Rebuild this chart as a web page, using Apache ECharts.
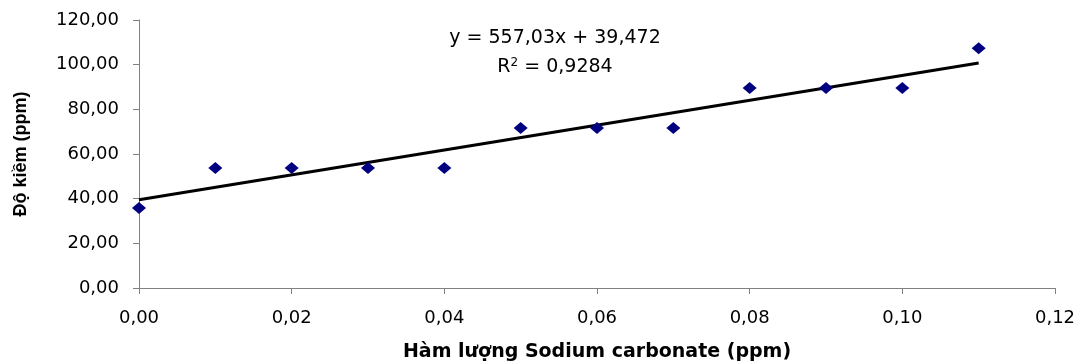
<!DOCTYPE html>
<html>
<head>
<meta charset="utf-8">
<script src="https://cdn.jsdelivr.net/npm/echarts@6/dist/echarts.min.js"></script>
<style>
html,body{margin:0;padding:0;background:#fff;}
#chart{width:1083px;height:364px;}
</style>
</head>
<body>
<div id="chart"></div>
<script>
// Data
var xValues = [0, 0.01, 0.02, 0.03, 0.04, 0.05, 0.06, 0.07, 0.08, 0.09, 0.10, 0.11];
var yValues = [35.8, 53.7, 53.7, 53.7, 53.7, 71.6, 71.6, 71.6, 89.5, 89.5, 89.5, 107.4];
var trendX = [0, 0.11];
var trendY = [39.472, 100.745];
var equationText = 'y = 557,03x + 39,472';
var r2Text = '= 0,9284';
var xAxisTitle = 'Hàm lượng Sodium carbonate (ppm)';
var yAxisTitle = 'Độ kiềm (ppm)';

var chart = echarts.init(document.getElementById('chart'), null, {renderer: 'canvas'});
var fmt = function (d) { return function (v) { return Number(v).toFixed(d).replace('.', ','); }; };
var font = 'DejaVu Sans';
var axisLine = {show: true, lineStyle: {color: '#808080', width: 1}};

var option = {
  animation: false,
  backgroundColor: '#ffffff',
  grid: {left: 139, right: 28, top: 20, bottom: 76, containLabel: false, outerBoundsMode: 'none'},
  xAxis: {
    type: 'value', min: 0, max: 0.12, interval: 0.02,
    axisLine: axisLine,
    axisTick: {show: true, inside: false, length: 6, lineStyle: {color: '#808080'}},
    splitLine: {show: false},
    axisLabel: {formatter: fmt(2), color: '#000', fontFamily: font, fontSize: 18, margin: 21},
    name: xAxisTitle, nameLocation: 'middle', nameGap: 55,
    nameTextStyle: {color: '#000', fontFamily: font, fontWeight: 'bold', fontSize: 19}
  },
  yAxis: {
    type: 'value', min: 0, max: 120, interval: 20,
    axisLine: axisLine,
    axisTick: {show: true, inside: false, length: 6, lineStyle: {color: '#808080'}},
    splitLine: {show: false},
    axisLabel: {formatter: fmt(2), color: '#000', fontFamily: font, fontSize: 18, margin: 20},
    name: yAxisTitle, nameLocation: 'middle', nameGap: 109, nameRotate: 90,
    nameTextStyle: {color: '#000', fontFamily: 'Liberation Sans', fontWeight: 'bold', fontSize: 18}
  },
  graphic: [
    {type: 'text', x: 555, y: 29, style: {text: equationText, fill: '#000', font: '19px "DejaVu Sans"', align: 'center', textAlign: 'center'}},
    {type: 'text', x: 555, y: 57, style: {text: 'R{s|2} ' + r2Text, fill: '#000', font: '19px "DejaVu Sans"', align: 'center', textAlign: 'center',
      rich: {s: {fontSize: 12, fontFamily: 'DejaVu Sans', verticalAlign: 'top', padding: [0, 0, 8, 0]}}}}
  ],
  series: [
    {
      type: 'line',
      data: trendX.map(function (x, i) { return [x, trendY[i]]; }),
      showSymbol: false, symbol: 'none',
      lineStyle: {color: '#000', width: 3},
      z: 2
    },
    {
      type: 'scatter',
      data: xValues.map(function (x, i) { return [x, yValues[i]]; }),
      symbol: 'diamond', symbolSize: [14, 12],
      itemStyle: {color: '#000080', opacity: 1},
      z: 3
    }
  ]
};
chart.setOption(option);
</script>
</body>
</html>
